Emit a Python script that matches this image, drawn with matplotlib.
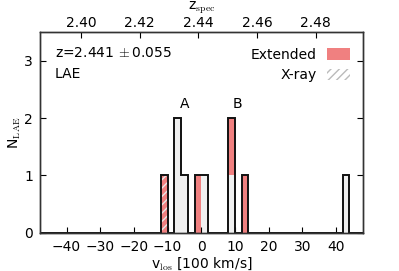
import numpy as np
import matplotlib
matplotlib.use("Agg")
import matplotlib.pyplot as plt
from matplotlib.patches import Patch

plt.rcParams['mathtext.fontset'] = 'cm'
plt.rcParams['font.family'] = 'DejaVu Sans'
plt.rcParams['hatch.linewidth'] = 1.0

# ---- data (velocities in units of 100 km/s) ----
v_nonextended = [-7, -7, -5, 1, 9, 43]
v_extended = [-11, -1, 9, 13]
v_xray = [-11]
z_center = 2.441
z_halfwidth = 0.055
bin_width = 2
z_ticks = [2.40, 2.42, 2.44, 2.46, 2.48]
v_ticks = [-40, -30, -20, -10, 0, 10, 20, 30, 40]
y_ticks = [0, 1, 2, 3]
peak_labels = ['A', 'B']
peak_pos = [-5.0, 10.8]

c100 = 2997.92458  # speed of light in 100 km/s
vmax = c100 * z_halfwidth / (1 + z_center)
bins = np.arange(-48, 50, bin_width)

gray = '#f0f0f0'
red = '#f08080'

fig = plt.figure(figsize=(3.99, 2.71), dpi=100)
ax = fig.add_axes([0.100, 0.1413, 0.809, 0.7395])

v_all = v_nonextended + v_extended
# stacked: non-extended at bottom, extended on top
ax.hist([v_nonextended, v_extended], bins=bins, stacked=True,
        color=[gray, red], histtype='bar', rwidth=1.0, linewidth=0)
ax.hist(v_xray, bins=bins, histtype='bar', rwidth=1.0, facecolor='none',
        edgecolor='#e8e8e8', hatch='////', linewidth=0)
ax.hist(v_all, bins=bins, histtype='step', color='#111111', linewidth=1.4)

ax.set_xlim(-vmax, vmax)
ax.set_ylim(0, 3.5)
ax.set_xticks(v_ticks)
ax.set_yticks(y_ticks)
ax.tick_params(direction='in', top=False, right=True, labelsize=10, length=4,
               width=0.8, pad=5)
for s in ax.spines.values():
    s.set_linewidth(1.0)
    s.set_color('#333333')

ax.set_xlabel(r'v$_{\rm los}$ [100 km/s]', fontsize=10, labelpad=1)
ax.set_ylabel(r'N$_{\rm LAE}$', fontsize=10, labelpad=1)

# top axis in redshift
axt = ax.twiny()
axt.set_xlim(z_center - z_halfwidth, z_center + z_halfwidth)
axt.set_xticks(z_ticks)
axt.set_xticklabels(['%.2f' % t for t in z_ticks])
axt.tick_params(direction='in', labelsize=10, length=4, width=0.8, pad=2)
axt.set_xlabel(r'z$_{\rm spec}$', fontsize=10, labelpad=4)
for s in axt.spines.values():
    s.set_linewidth(1.0)
    s.set_color('#333333')

for lab, x in zip(peak_labels, peak_pos):
    ax.text(x, 2.13, lab, ha='center', va='bottom', fontsize=10)

ax.text(0.047, 0.895, r'z=2.441$\,\pm$0.055', transform=ax.transAxes,
        fontsize=10, ha='left', va='center')
ax.text(0.047, 0.792, 'LAE', transform=ax.transAxes, fontsize=10,
        ha='left', va='center')

handles = [Patch(facecolor=red, edgecolor='none', label='Extended'),
           Patch(facecolor='white', edgecolor='#bbbbbb', hatch='////',
                 linewidth=0, label='X-ray')]
ax.legend(handles=handles, loc='upper right', frameon=False, markerfirst=False,
          fontsize=10, handlelength=1.65, handleheight=0.9, handletextpad=0.7,
          labelspacing=0.45, borderaxespad=0.0, bbox_to_anchor=(0.977, 0.95))

fig.savefig('out.png', dpi=100)
